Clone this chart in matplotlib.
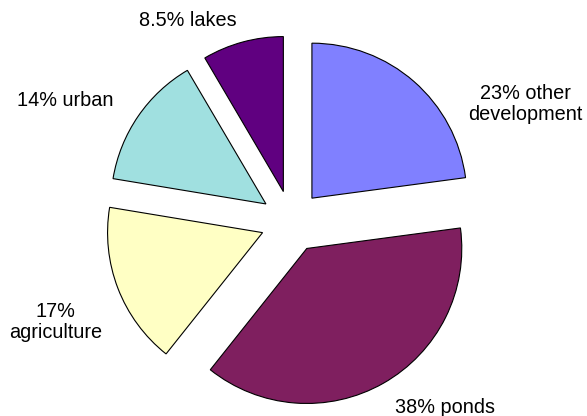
import matplotlib
matplotlib.use("Agg")
import matplotlib.pyplot as plt

# Land-use shares, clockwise from 12 o'clock
categories = ["other\ndevelopment", "ponds", "agriculture", "urban", "lakes"]
shares = [23, 38, 17, 14, 8.5]
label_text = ["23% other\ndevelopment", "38% ponds", "17%\nagriculture",
              "14% urban", "8.5% lakes"]
colors = ["#8080FF", "#7F1F5F", "#FFFFC4", "#A0E0E0", "#600080"]

# label anchor points in data units (pie radius = 1)
label_pos = [(1.51, 0.76), (0.99, -1.20), (-1.52, -0.65), (-1.46, 0.78), (-0.67, 1.30)]

plt.rcParams["font.family"] = ["Liberation Sans", "DejaVu Sans"]

fig = plt.figure(figsize=(5.87, 4.16), dpi=100)
ax = fig.add_axes([0, 0, 1, 1])

ax.pie(shares, colors=colors, startangle=90, counterclock=False,
       explode=[0.2] * len(shares),
       wedgeprops=dict(edgecolor="black", linewidth=0.8))

for txt, (x, y) in zip(label_text, label_pos):
    ax.text(x, y, txt, ha="center", va="center", fontsize=14.3,
            linespacing=1.15)

# 1 data unit = 155 px, pie centre at (291.5, 221.5) px from top-left
scale = 155.0
ax.set_xlim(-291.5 / scale, (587 - 291.5) / scale)
ax.set_ylim(-(416 - 221.5) / scale, 221.5 / scale)
ax.set_aspect("equal")
ax.axis("off")

fig.savefig("out.png", dpi=100)
